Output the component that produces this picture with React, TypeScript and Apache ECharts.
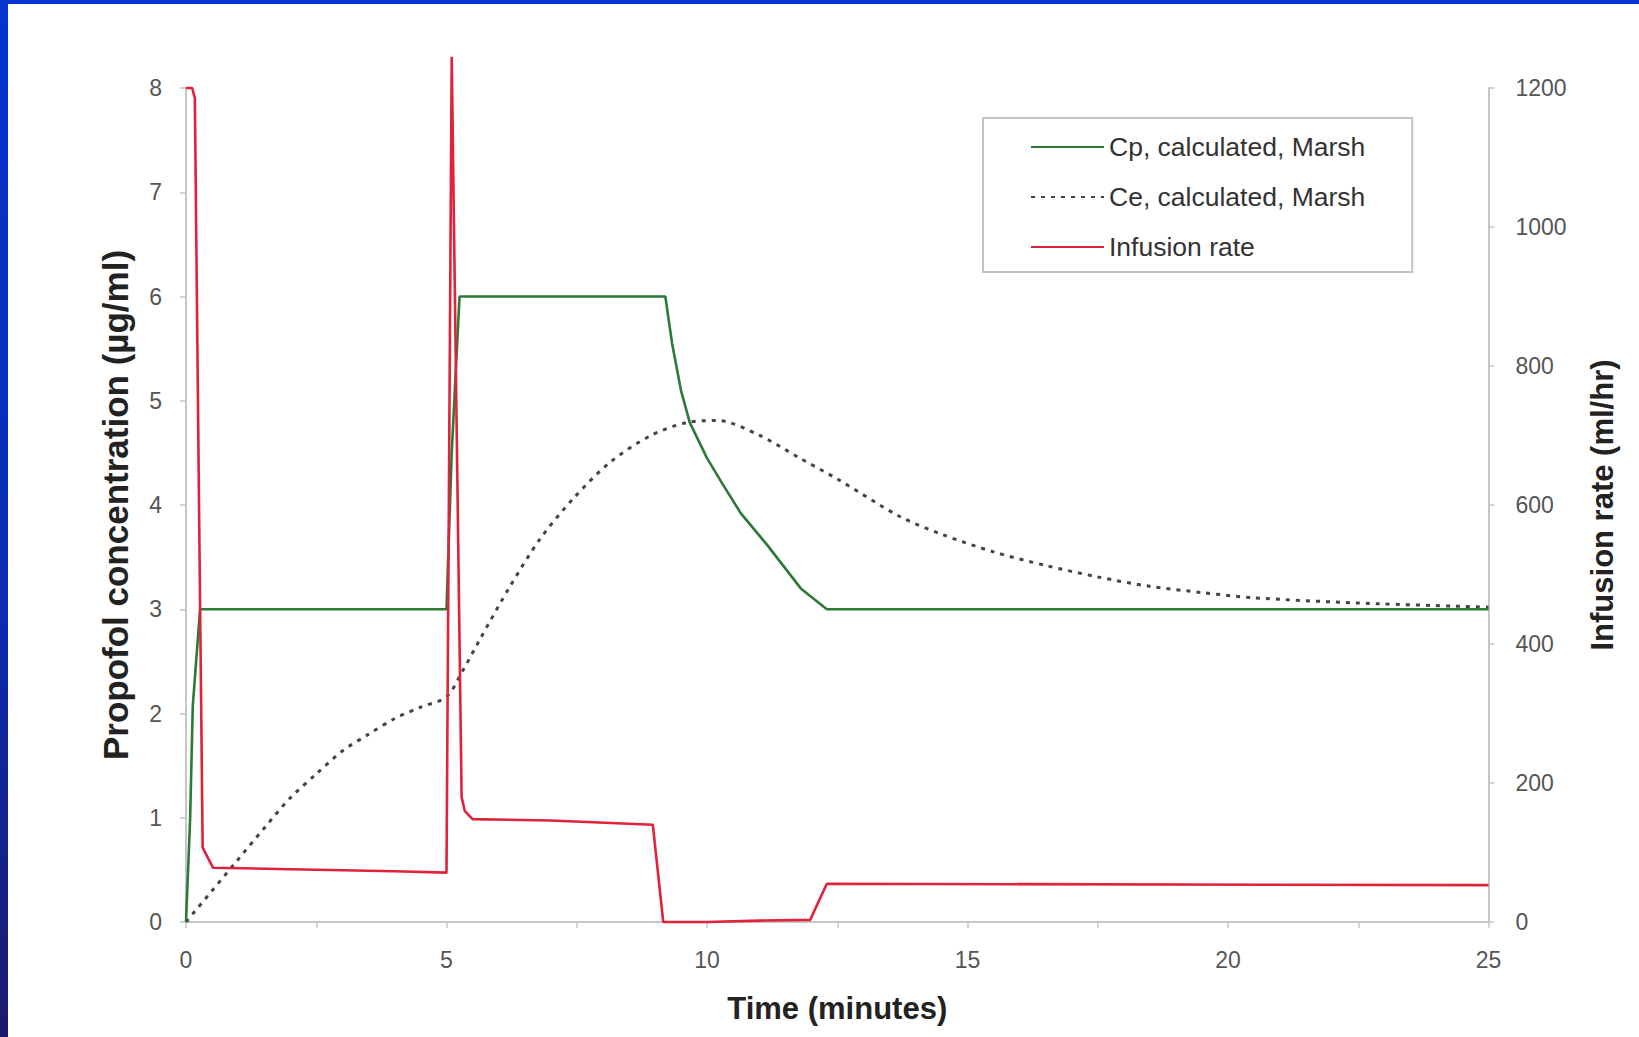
import React, { useEffect, useRef } from "react";
import * as echarts from "echarts";

// ---- Data ----
const xTicks = [0, 5, 10, 15, 20, 25];
const leftTicks = [0, 1, 2, 3, 4, 5, 6, 7, 8];
const rightTicks = [0, 200, 400, 600, 800, 1000, 1200];

// Cp, calculated, Marsh (µg/ml)
const cpTime = [0, 0.08, 0.13, 0.27, 5.0, 5.1, 5.25, 9.2, 9.33, 9.5, 9.67, 10.0, 10.3, 10.65, 11.15, 11.8, 12.3, 25];
const cpValue = [0, 1.0, 2.07, 3.0, 3.0, 4.5, 6.0, 6.0, 5.55, 5.1, 4.79, 4.45, 4.2, 3.92, 3.62, 3.2, 3.0, 3.0];

// Ce, calculated, Marsh (µg/ml)
const ceTime = [0, 0.5, 1.0, 1.5, 2.0, 2.5, 3.0, 3.5, 4.0, 4.5, 5.0, 5.3, 5.64, 6.22, 6.79, 7.43, 8.14, 8.9, 9.6, 10.2, 11.0, 11.78, 12.5, 13.7, 14.5, 15.5, 16.5, 17.5, 18.5, 19.5, 20.5, 22.5, 25];
const ceValue = [0, 0.3, 0.6, 0.9, 1.19, 1.42, 1.64, 1.8, 1.95, 2.06, 2.16, 2.4, 2.71, 3.22, 3.67, 4.06, 4.41, 4.66, 4.79, 4.81, 4.67, 4.45, 4.25, 3.89, 3.72, 3.55, 3.42, 3.31, 3.22, 3.16, 3.11, 3.06, 3.02];

// Infusion rate (ml/hr)
const rateTime = [0, 0.12, 0.17, 0.25, 0.32, 0.52, 2.0, 4.0, 5.0, 5.1, 5.29, 5.35, 5.5, 7.0, 8.96, 9.16, 10.0, 11.0, 11.98, 12.3, 25];
const rateValue = [1200, 1200, 1185, 600, 107, 78, 76, 73, 71, 1245, 180, 160, 148, 146, 140, 0, 0, 2, 3, 55, 53];

const seriesNames = ["Cp, calculated, Marsh", "Ce, calculated, Marsh", "Infusion rate"];

const zip = (xs: number[], ys: number[]) => xs.map((x, i) => [x, ys[i]]);

const FONT = "'Liberation Sans', Arial, Helvetica, sans-serif";

export default function App() {
  const ref = useRef<HTMLDivElement>(null);

  useEffect(() => {
    if (!ref.current) return;
    const chart = echarts.init(ref.current, null, { renderer: "svg" });
    const axisLineStyle = { color: "#c6c6c6", width: 2 };
    const labelStyle = { color: "#555", fontSize: 23, fontFamily: FONT };
    const plain = (v: number) => String(v);

    chart.setOption({
      animation: false,
      backgroundColor: "#ffffff",
      graphic: [
        { type: "rect", left: 0, top: 0, shape: { width: 1639, height: 4 }, style: { fill: "#0634cf" }, z: 100 },
        {
          type: "rect",
          left: 0,
          top: 0,
          shape: { width: 8, height: 1037 },
          style: {
            fill: new echarts.graphic.LinearGradient(0, 0, 0, 1, [
              { offset: 0, color: "#0634cf" },
              { offset: 0.6, color: "#0b2bb0" },
              { offset: 1, color: "#1b1a6e" },
            ]),
          },
          z: 100,
        },
      ],
      grid: { left: 186, right: 150.5, top: 88, bottom: 115, containLabel: false },
      legend: {
        data: seriesNames,
        orient: "vertical",
        left: 983,
        top: 118,
        padding: [15, 47, 11, 47],
        itemGap: 22,
        itemWidth: 73,
        itemHeight: 14,
        itemStyle: { opacity: 0 },
        borderColor: "#c4c4c4",
        borderWidth: 2,
        textStyle: { color: "#333", fontSize: 26.5, fontFamily: FONT, lineHeight: 28 },
      },
      xAxis: {
        type: "value",
        min: xTicks[0],
        max: xTicks[xTicks.length - 1],
        interval: 5,
        name: "Time (minutes)",
        nameLocation: "middle",
        nameGap: 71,
        nameTextStyle: { color: "#222", fontSize: 31, fontWeight: "bold", fontFamily: FONT },
        axisLine: { show: true, lineStyle: axisLineStyle },
        axisTick: { show: true, length: 6, lineStyle: { color: "#c6c6c6", width: 1.5 } },
        minorTick: { show: true, splitNumber: 2, length: 6, lineStyle: { color: "#c6c6c6", width: 1.5 } },
        axisLabel: { ...labelStyle, margin: 26, formatter: plain },
        splitLine: { show: false },
      },
      yAxis: [
        {
          type: "value",
          position: "left",
          min: leftTicks[0],
          max: leftTicks[leftTicks.length - 1],
          interval: 1,
          name: "Propofol concentration (µg/ml)",
          nameLocation: "middle",
          nameGap: 53,
          nameTextStyle: { color: "#222", fontSize: 35, fontWeight: "bold", fontFamily: FONT },
          axisLine: { show: true, lineStyle: axisLineStyle },
          axisTick: { show: true, length: 6, lineStyle: { color: "#c6c6c6", width: 1.5 } },
          axisLabel: { ...labelStyle, margin: 24, formatter: plain },
          splitLine: { show: false },
        },
        {
          type: "value",
          position: "right",
          min: rightTicks[0],
          max: rightTicks[rightTicks.length - 1],
          interval: 200,
          name: "Infusion rate (ml/hr)",
          nameLocation: "middle",
          nameGap: 98,
          nameTextStyle: { color: "#222", fontSize: 31, fontWeight: "bold", fontFamily: FONT },
          axisLine: { show: true, lineStyle: axisLineStyle },
          axisTick: { show: true, length: 6, lineStyle: { color: "#c6c6c6", width: 1.5 } },
          axisLabel: { ...labelStyle, margin: 27, formatter: plain },
          splitLine: { show: false },
        },
      ],
      series: [
        {
          name: seriesNames[0],
          type: "line",
          yAxisIndex: 0,
          data: zip(cpTime, cpValue),
          symbol: "none",
          lineStyle: { color: "#2b7a35", width: 2.6 },
          itemStyle: { color: "#2b7a35" },
          z: 3,
        },
        {
          name: seriesNames[1],
          type: "line",
          yAxisIndex: 0,
          data: zip(ceTime, ceValue),
          symbol: "none",
          smooth: 0.3,
          lineStyle: { color: "#444", width: 3, type: [4, 6] },
          itemStyle: { color: "#444" },
          z: 2,
        },
        {
          name: seriesNames[2],
          type: "line",
          yAxisIndex: 1,
          data: zip(rateTime, rateValue),
          symbol: "none",
          clip: false,
          lineStyle: { color: "#e0233a", width: 2.6 },
          itemStyle: { color: "#e0233a" },
          z: 4,
        },
      ],
    });
    return () => chart.dispose();
  }, []);

  return (
    <div
      ref={ref}
      style={{ position: "fixed", left: 0, top: 0, width: 1639, height: 1037, background: "#fff" }}
    />
  );
}
